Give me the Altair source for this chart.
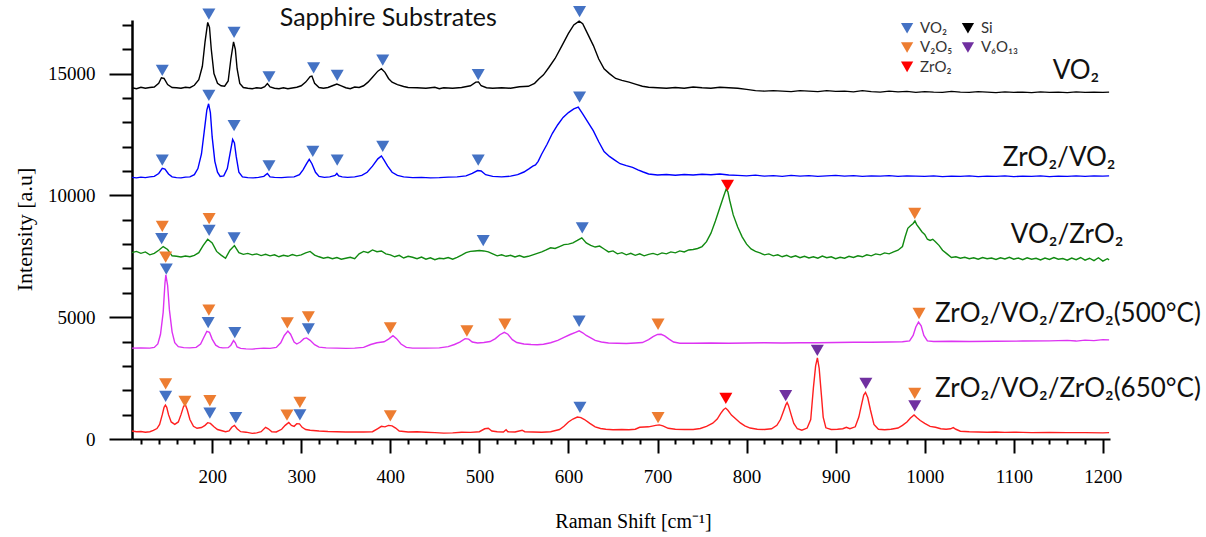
import altair as alt
import pandas as pd

# ---- Raman spectra: (shift in cm^-1, stacked intensity in a.u.) ----
vo2 = [
    (110, 14420), (115, 14380), (120, 14440), (125, 14400), (130, 14430), (135, 14450),
    (140, 14600), (143, 14830), (146, 14800), (150, 14550), (155, 14430), (160, 14420),
    (165, 14400), (170, 14440), (175, 14420), (180, 14520), (185, 14750), (189, 15300),
    (192, 16300), (195, 17100), (197, 16900), (199, 16000), (202, 15000), (206, 14600),
    (210, 14500), (214, 14480), (218, 14700), (221, 15600), (224, 16300), (226, 16000),
    (228, 15200), (231, 14600), (235, 14430), (240, 14400), (245, 14380), (250, 14420),
    (255, 14400), (259, 14460), (262, 14590), (265, 14450), (270, 14400), (275, 14380),
    (280, 14420), (285, 14380), (290, 14410), (295, 14440), (300, 14500), (305, 14650),
    (310, 14880), (312, 14900), (315, 14600), (320, 14430), (325, 14400), (330, 14430),
    (335, 14500), (340, 14570), (345, 14500), (350, 14420), (355, 14380), (360, 14450),
    (365, 14430), (370, 14500), (375, 14650), (380, 14850), (386, 15100), (390, 15200),
    (394, 15050), (398, 14800), (402, 14650), (408, 14550), (415, 14470), (420, 14430),
    (430, 14420), (440, 14400), (450, 14440), (455, 14380), (460, 14420), (470, 14400),
    (480, 14430), (490, 14500), (496, 14650), (499, 14660), (502, 14500), (508, 14420),
    (515, 14400), (525, 14420), (535, 14400), (545, 14460), (555, 14480), (562, 14600),
    (567, 14790), (572, 14950), (578, 15250), (585, 15620), (592, 16100), (600, 16650),
    (606, 17000), (612, 17150), (616, 17050), (622, 16600), (628, 16150), (634, 15600),
    (640, 15200), (646, 15000), (653, 14800), (660, 14720), (668, 14650), (676, 14560),
    (683, 14480), (690, 14440), (700, 14420), (710, 14400), (720, 14430), (730, 14400),
    (740, 14450), (750, 14420), (760, 14400), (770, 14440), (780, 14420), (790, 14400),
    (800, 14350), (810, 14300), (820, 14280), (830, 14300), (840, 14280), (850, 14260),
    (860, 14300), (870, 14280), (880, 14260), (890, 14300), (900, 14270), (910, 14280),
    (920, 14250), (930, 14300), (940, 14260), (950, 14240), (960, 14280), (970, 14250),
    (980, 14270), (990, 14230), (1000, 14260), (1010, 14240), (1020, 14230), (1030, 14270),
    (1040, 14240), (1050, 14230), (1060, 14260), (1070, 14240), (1080, 14220), (1090, 14250),
    (1100, 14230), (1110, 14240), (1120, 14220), (1130, 14250), (1140, 14230), (1150, 14240),
    (1160, 14220), (1170, 14250), (1180, 14230), (1190, 14240), (1200, 14230), (1207, 14240),
]

zro2_vo2 = [
    (110, 10740), (115, 10720), (120, 10750), (125, 10730), (130, 10760), (135, 10780),
    (140, 10900), (144, 11110), (147, 11080), (151, 10880), (155, 10760), (160, 10730),
    (165, 10720), (170, 10750), (175, 10760), (180, 10850), (184, 11100), (188, 11700),
    (191, 12600), (194, 13500), (196, 13760), (198, 13400), (200, 12400), (203, 11400),
    (206, 10950), (209, 10780), (213, 10800), (217, 11100), (220, 11700), (223, 12300),
    (225, 12150), (227, 11600), (230, 10950), (234, 10760), (240, 10730), (246, 10720),
    (252, 10740), (258, 10780), (262, 10900), (265, 10760), (270, 10740), (278, 10730),
    (285, 10750), (292, 10760), (298, 10850), (302, 11050), (306, 11300), (309, 11480),
    (312, 11300), (316, 10950), (320, 10780), (326, 10740), (332, 10760), (338, 10820),
    (340, 10900), (342, 10800), (346, 10760), (352, 10740), (360, 10760), (368, 10820),
    (374, 10950), (380, 11200), (386, 11500), (390, 11620), (393, 11450), (397, 11200),
    (402, 10950), (408, 10820), (415, 10760), (425, 10730), (435, 10740), (445, 10720),
    (455, 10730), (465, 10750), (475, 10760), (485, 10800), (492, 10900), (498, 11020),
    (502, 11000), (507, 10850), (515, 10780), (525, 10760), (535, 10790), (543, 10850),
    (550, 10960), (556, 11100), (560, 11200), (563, 11250), (566, 11400), (570, 11700),
    (576, 12100), (582, 12550), (588, 12900), (594, 13200), (600, 13400), (606, 13550),
    (611, 13620), (616, 13350), (622, 13000), (628, 12650), (634, 12200), (640, 11800),
    (646, 11600), (652, 11450), (658, 11300), (665, 11220), (672, 11150), (678, 11050),
    (684, 10960), (690, 10880), (700, 10840), (710, 10860), (720, 10830), (730, 10860),
    (740, 10840), (750, 10870), (760, 10850), (770, 10880), (780, 10840), (790, 10820),
    (800, 10800), (810, 10830), (820, 10790), (830, 10810), (840, 10780), (850, 10820),
    (860, 10790), (870, 10810), (880, 10780), (890, 10800), (900, 10820), (910, 10790),
    (920, 10810), (930, 10780), (940, 10800), (950, 10790), (960, 10810), (970, 10780),
    (980, 10800), (990, 10790), (1000, 10780), (1010, 10800), (1020, 10770), (1030, 10790),
    (1040, 10780), (1050, 10800), (1060, 10770), (1070, 10790), (1080, 10780), (1090, 10800),
    (1100, 10770), (1110, 10790), (1120, 10780), (1130, 10800), (1140, 10770), (1150, 10790),
    (1160, 10780), (1170, 10800), (1180, 10780), (1190, 10800), (1200, 10790), (1207, 10800),
]

vo2_zro2 = [
    (110, 7650), (115, 7700), (120, 7620), (125, 7680), (130, 7560), (135, 7620),
    (140, 7750), (145, 7900), (150, 7780), (155, 7520), (160, 7500), (165, 7470),
    (170, 7510), (175, 7480), (180, 7540), (185, 7650), (190, 7950), (195, 8200),
    (200, 8050), (205, 7700), (210, 7550), (215, 7420), (220, 7750), (225, 7940),
    (230, 7650), (235, 7580), (240, 7620), (245, 7560), (250, 7600), (255, 7530),
    (260, 7580), (265, 7520), (270, 7560), (275, 7480), (280, 7540), (285, 7500),
    (290, 7570), (295, 7520), (300, 7560), (305, 7640), (310, 7700), (315, 7550),
    (320, 7480), (325, 7420), (330, 7460), (335, 7400), (340, 7450), (345, 7380),
    (350, 7420), (355, 7460), (360, 7400), (365, 7600), (370, 7700), (375, 7650),
    (380, 7760), (385, 7690), (390, 7720), (395, 7600), (400, 7560), (405, 7480),
    (410, 7540), (415, 7430), (420, 7500), (425, 7460), (430, 7400), (435, 7470),
    (440, 7380), (445, 7440), (450, 7360), (455, 7420), (460, 7400), (465, 7450),
    (470, 7380), (475, 7460), (480, 7550), (485, 7650), (490, 7700), (495, 7720),
    (500, 7740), (505, 7720), (510, 7680), (515, 7600), (520, 7520), (525, 7560),
    (530, 7500), (535, 7540), (540, 7470), (545, 7530), (550, 7460), (555, 7500),
    (560, 7560), (565, 7620), (570, 7680), (575, 7760), (580, 7850), (585, 7820),
    (590, 7900), (595, 7980), (600, 8000), (605, 8050), (610, 8150), (615, 8260),
    (620, 8050), (625, 7950), (630, 7880), (635, 7920), (640, 7800), (645, 7680),
    (650, 7720), (655, 7600), (660, 7650), (665, 7560), (670, 7620), (675, 7540),
    (680, 7600), (685, 7520), (690, 7580), (695, 7620), (700, 7560), (705, 7640),
    (710, 7600), (715, 7680), (720, 7640), (725, 7720), (730, 7680), (735, 7760),
    (740, 7780), (745, 7820), (750, 7900), (755, 8100), (760, 8450), (765, 8950),
    (770, 9500), (775, 10050), (777, 10250), (779, 10150), (781, 9800), (785, 9200),
    (790, 8700), (795, 8300), (800, 8000), (805, 7800), (810, 7700), (815, 7640),
    (820, 7560), (825, 7600), (830, 7520), (835, 7560), (840, 7480), (845, 7540),
    (850, 7460), (855, 7520), (860, 7440), (865, 7500), (870, 7430), (875, 7480),
    (880, 7420), (885, 7510), (890, 7440), (895, 7480), (900, 7400), (905, 7460),
    (910, 7420), (915, 7500), (920, 7450), (925, 7520), (930, 7480), (935, 7560),
    (940, 7520), (945, 7600), (950, 7560), (955, 7640), (960, 7600), (965, 7680),
    (970, 7750), (975, 7900), (978, 8300), (981, 8650), (984, 8750), (987, 8850),
    (989, 8950), (991, 8800), (994, 8650), (997, 8500), (1000, 8400), (1003, 8200),
    (1006, 8150), (1009, 8200), (1012, 8100), (1016, 7950), (1020, 7750), (1025, 7600),
    (1030, 7450), (1035, 7480), (1040, 7420), (1045, 7460), (1050, 7400), (1055, 7440),
    (1060, 7380), (1065, 7450), (1070, 7400), (1075, 7430), (1080, 7370), (1085, 7440),
    (1090, 7390), (1095, 7460), (1100, 7380), (1105, 7430), (1110, 7360), (1115, 7440),
    (1120, 7380), (1125, 7420), (1130, 7350), (1135, 7430), (1140, 7370), (1145, 7450),
    (1150, 7380), (1155, 7410), (1160, 7340), (1165, 7430), (1170, 7360), (1175, 7450),
    (1180, 7340), (1185, 7420), (1190, 7320), (1195, 7440), (1200, 7300), (1205, 7400),
    (1207, 7350),
]

tri_500 = [
    (110, 3730), (120, 3740), (130, 3730), (135, 3760), (139, 3900), (142, 4300),
    (145, 5200), (147, 6400), (148, 6735), (150, 6300), (152, 5300), (155, 4400),
    (158, 3950), (162, 3790), (168, 3750), (175, 3740), (182, 3760), (187, 3900),
    (191, 4200), (194, 4420), (197, 4380), (200, 4100), (204, 3850), (208, 3760),
    (212, 3740), (218, 3750), (221, 3850), (224, 4040), (226, 3950), (228, 3780),
    (232, 3720), (238, 3700), (245, 3690), (250, 3710), (258, 3730), (265, 3720),
    (272, 3760), (277, 3950), (281, 4250), (285, 4430), (288, 4300), (292, 3980),
    (295, 3900), (299, 3980), (303, 4120), (306, 4150), (310, 4050), (315, 3870),
    (320, 3770), (328, 3740), (340, 3730), (350, 3720), (360, 3730), (370, 3760),
    (378, 3880), (385, 3950), (393, 3990), (398, 4100), (403, 4240), (407, 4120),
    (412, 3900), (418, 3760), (425, 3730), (440, 3730), (455, 3740), (465, 3790),
    (472, 3880), (478, 3980), (484, 4120), (488, 4100), (492, 3980), (498, 3940),
    (505, 3960), (512, 4000), (518, 4120), (523, 4280), (528, 4380), (532, 4300),
    (537, 4080), (542, 3960), (550, 3900), (558, 3880), (565, 3870), (572, 3890),
    (580, 3950), (588, 4050), (595, 4170), (602, 4290), (608, 4380), (612, 4440),
    (616, 4360), (620, 4250), (625, 4150), (630, 4050), (637, 3980), (645, 3940),
    (655, 3930), (665, 3920), (675, 3940), (683, 3960), (690, 4080), (695, 4200),
    (700, 4290), (704, 4300), (708, 4230), (713, 4100), (718, 3980), (725, 3930),
    (740, 3930), (760, 3940), (780, 3930), (800, 3940), (820, 3950), (840, 3940),
    (860, 3950), (880, 3950), (900, 3960), (920, 3970), (940, 3970), (960, 3980),
    (975, 3990), (983, 4030), (987, 4250), (990, 4600), (993, 4800), (996, 4650),
    (999, 4250), (1003, 4030), (1010, 4000), (1030, 4010), (1050, 4000), (1080, 4010),
    (1110, 4020), (1140, 4030), (1160, 4050), (1170, 4020), (1180, 4060), (1190, 4040),
    (1200, 4080), (1207, 4070),
]

tri_650 = [
    (110, 330), (115, 300), (120, 310), (125, 280), (130, 300), (134, 350),
    (138, 430), (141, 600), (144, 1000), (146, 1300), (147.5, 1390), (149, 1300),
    (151, 1000), (154, 700), (158, 600), (162, 700), (165, 1000), (168, 1350),
    (170, 1400), (172, 1200), (175, 800), (179, 520), (183, 440), (188, 470),
    (192, 560), (195, 670), (198, 640), (202, 500), (206, 390), (210, 350),
    (215, 300), (219, 330), (222, 480), (225, 560), (228, 420), (232, 300),
    (238, 280), (245, 230), (250, 250), (255, 300), (260, 480), (263, 420),
    (267, 300), (272, 290), (278, 400), (282, 560), (286, 680), (289, 560),
    (292, 520), (295, 630), (298, 620), (301, 480), (305, 390), (310, 360),
    (320, 330), (330, 310), (340, 300), (350, 290), (360, 290), (370, 290),
    (380, 300), (386, 430), (390, 520), (394, 500), (398, 560), (402, 540),
    (406, 450), (410, 330), (420, 290), (430, 300), (440, 280), (450, 260),
    (460, 240), (470, 250), (480, 280), (490, 270), (500, 300), (506, 420),
    (510, 440), (514, 330), (520, 300), (527, 290), (530, 380), (532, 300),
    (540, 290), (548, 360), (551, 300), (560, 290), (570, 280), (580, 300),
    (590, 390), (595, 520), (600, 700), (605, 820), (610, 900), (614, 880),
    (618, 800), (624, 640), (630, 500), (636, 430), (642, 400), (650, 380),
    (660, 390), (668, 380), (675, 400), (680, 480), (690, 500), (698, 560),
    (702, 580), (706, 540), (712, 440), (720, 400), (730, 390), (740, 390),
    (748, 430), (755, 520), (762, 650), (767, 820), (771, 1050), (774, 1200),
    (776.5, 1270), (779, 1180), (783, 980), (788, 820), (793, 660), (798, 540),
    (804, 450), (812, 400), (820, 390), (828, 420), (834, 560), (838, 800),
    (841, 1100), (844, 1400), (845.5, 1500), (847, 1380), (850, 1000), (853, 640),
    (857, 420), (862, 360), (868, 450), (872, 800), (875, 2100), (877.5, 3000),
    (879.5, 3334), (881.5, 2900), (884, 1800), (886, 900), (889, 460), (895, 390),
    (902, 400), (908, 420), (912, 480), (916, 420), (922, 500), (926, 900),
    (929, 1400), (931.5, 1800), (933.5, 1913), (936, 1700), (939, 1200), (943, 600),
    (948, 400), (955, 380), (962, 400), (970, 450), (975, 560), (980, 700),
    (984, 860), (988, 990), (991, 880), (995, 760), (1000, 640), (1006, 520),
    (1012, 480), (1018, 420), (1024, 400), (1029, 420), (1032, 470), (1035, 400),
    (1040, 320), (1050, 300), (1060, 290), (1070, 280), (1080, 290), (1090, 270),
    (1100, 280), (1110, 270), (1120, 260), (1140, 270), (1160, 260), (1180, 260),
    (1200, 250), (1207, 260),
]

SAMPLES = ["VO₂", "ZrO₂/VO₂", "VO₂/ZrO₂", "ZrO₂/VO₂/ZrO₂(500°C)", "ZrO₂/VO₂/ZrO₂(650°C)"]
SAMPLE_COLORS = ["#000000", "#0000FF", "#118A11", "#DD33F2", "#FF1F1F"]
SPECTRA = [vo2, zro2_vo2, vo2_zro2, tri_500, tri_650]

# Label anchor (left end, baseline) beside each spectrum
label_shift = [1143.7, 1087.7, 1096.7, 1011.5, 1011.5]
label_intensity = [14793, 11198, 8045, 4806, 1707]

# ---- Phase assignments: (sample index, shift, intensity, phase) ----
phase_marks = [
    (0, 144, 15136, "VO2"), (0, 196.3, 17437, "VO2"), (0, 224.6, 16693, "VO2"),
    (0, 263.8, 14862, "VO2"), (0, 313.9, 15233, "VO2"), (0, 340.4, 14930, "VO2"),
    (0, 391.5, 15549, "VO2"), (0, 498.7, 14958, "VO2"), (0, 612.5, 17548, "VO2"),
    (1, 144, 11446, "VO2"), (1, 196.3, 14103, "VO2"), (1, 224.6, 12863, "VO2"),
    (1, 263.8, 11211, "VO2"), (1, 313, 11805, "VO2"), (1, 340.4, 11446, "VO2"),
    (1, 391.5, 12011, "VO2"), (1, 498.7, 11446, "VO2"), (1, 612.5, 14036, "VO2"),
    (2, 143.3, 8223, "VO2"), (2, 144, 8731, "V2O5"), (2, 196.6, 8566, "VO2"),
    (2, 196.6, 9049, "V2O5"), (2, 224.6, 8251, "VO2"), (2, 504.3, 8140, "VO2"),
    (2, 615.5, 8665, "VO2"), (2, 778.6, 10413, "ZrO2"), (2, 988.8, 9256, "V2O5"),
    (3, 147.8, 7466, "V2O5"), (3, 148.5, 6970, "VO2"), (3, 196.3, 5289, "V2O5"),
    (3, 195.5, 4780, "VO2"), (3, 225.4, 4367, "VO2"), (3, 284.4, 4764, "V2O5"),
    (3, 308, 5012, "V2O5"), (3, 308, 4516, "VO2"), (3, 400, 4558, "V2O5"),
    (3, 486, 4434, "V2O5"), (3, 528.6, 4710, "V2O5"), (3, 612, 4834, "VO2"),
    (3, 700.6, 4710, "V2O5"), (3, 993.6, 5151, "V2O5"),
    (4, 147.8, 2260, "V2O5"), (4, 147.8, 1748, "VO2"), (4, 169.4, 1542, "V2O5"),
    (4, 197.4, 1570, "V2O5"), (4, 197.4, 1062, "VO2"), (4, 226.5, 880, "VO2"),
    (4, 284, 979, "V2O5"), (4, 298.5, 1500, "V2O5"), (4, 298.5, 992, "VO2"),
    (4, 400, 950, "V2O5"), (4, 612.9, 1295, "VO2"), (4, 700.6, 880, "V2O5"),
    (4, 776.7, 1666, "ZrO2"), (4, 843.9, 1777, "V6O13"), (4, 879.4, 3636, "V6O13"),
    (4, 933.9, 2287, "V6O13"), (4, 988.8, 1873, "V2O5"), (4, 988.8, 1364, "V6O13"),
]

PHASES = ["VO2", "V2O5", "ZrO2", "Si", "V6O13"]
PHASE_NAMES = ["VO₂", "V₂O₅", "ZrO₂", "Si", "V₆O₁₃"]
PHASE_COLORS = ["#4472C4", "#ED7D31", "#FF0000", "#000000", "#7030A0"]
# key positions (shift, intensity) of each phase symbol, two columns
key_shift = [980.2, 980.2, 980.2, 1048.5, 1048.5]
key_intensity = [16859, 16074, 15276, 16859, 16074]

X_MAJOR = [200, 300, 400, 500, 600, 700, 800, 900, 1000, 1100, 1200]
X_MINOR = [v for v in range(120, 1201, 20) if v % 100 != 0]
Y_MAJOR = [0, 5000, 10000, 15000]
Y_MINOR = [v for v in range(1000, 17001, 1000) if v % 5000 != 0]

X_DOMAIN = [110, 1208]
Y_DOMAIN = [0, 17200]

SERIF = "Liberation Serif"
SANS = "Lato"

# ---- tables ----
line_rows = []
for name, spec in zip(SAMPLES, SPECTRA):
    for order, (s, i) in enumerate(spec):
        line_rows.append({"sample": name, "shift": s, "intensity": i, "order": order})
lines_df = pd.DataFrame(line_rows)

marks_df = pd.DataFrame(
    [{"sample": SAMPLES[k], "shift": s, "intensity": i, "phase": p} for k, s, i, p in phase_marks]
)
labels_df = pd.DataFrame({"text": SAMPLES, "shift": label_shift, "intensity": label_intensity})
key_df = pd.DataFrame(
    {"phase": PHASES, "name": PHASE_NAMES, "shift": key_shift, "intensity": key_intensity}
)
title_df = pd.DataFrame({"text": ["Sapphire Substrates"], "shift": [275.9], "intensity": [16960]})

xscale = alt.Scale(domain=X_DOMAIN, nice=False, zero=False)
yscale = alt.Scale(domain=Y_DOMAIN, nice=False, zero=False)
sample_scale = alt.Scale(domain=SAMPLES, range=SAMPLE_COLORS)
phase_scale = alt.Scale(domain=PHASES, range=PHASE_COLORS)

x_major_axis = alt.Axis(
    orient="bottom", values=X_MAJOR, format="d", tickSize=14, tickWidth=2, tickColor="#000",
    domainWidth=2, domainColor="#000", labelFont=SERIF, labelFontSize=19, labelColor="#000",
    labelPadding=14, labelOverlap=False, labelFlush=False, grid=False,
    title="Raman Shift [cm⁻¹]", titleFont=SERIF, titleFontSize=20, titleFontWeight="normal",
    titleColor="#000", titleX=501, titleY=82, titleBaseline="middle", titleAlign="center",
)
y_major_axis = alt.Axis(
    orient="left", values=Y_MAJOR, format="d", tickSize=23, tickWidth=2, tickColor="#000",
    domainWidth=2.5, domainColor="#000", labelFont=SERIF, labelFontSize=19, labelColor="#000",
    labelPadding=14, labelOverlap=False, labelFlush=False, grid=False,
    title="Intensity [a.u]", titleFont=SERIF, titleFontSize=22, titleFontWeight="normal",
    titleColor="#000", titleX=-108, titleY=209, titleAngle=-90,
    titleBaseline="middle", titleAlign="center",
)
x_minor_axis = alt.Axis(
    orient="bottom", values=X_MINOR, tickSize=5, tickWidth=2, tickColor="#000",
    domain=False, labels=False, grid=False, title=None,
)
y_minor_axis = alt.Axis(
    orient="left", values=Y_MINOR, tickSize=10, tickWidth=2, tickColor="#000",
    domain=False, labels=False, grid=False, title=None,
)

spectra = alt.Chart(lines_df).mark_line(strokeWidth=1.4, clip=False).encode(
    x=alt.X("shift:Q", scale=xscale, axis=x_major_axis),
    y=alt.Y("intensity:Q", scale=yscale, axis=y_major_axis),
    color=alt.Color("sample:N", scale=sample_scale, legend=None),
    order="order:Q",
)

minor = alt.Chart(lines_df).mark_point(opacity=0).encode(
    x=alt.X("shift:Q", scale=xscale, axis=x_minor_axis),
    y=alt.Y("intensity:Q", scale=yscale, axis=y_minor_axis),
)

tri = alt.Chart(marks_df).mark_point(
    shape="triangle-down", filled=True, size=170, opacity=1, clip=False
).encode(
    x=alt.X("shift:Q", scale=xscale, axis=None),
    y=alt.Y("intensity:Q", scale=yscale, axis=None),
    fill=alt.Fill("phase:N", scale=phase_scale, legend=None),
)

sample_labels = alt.Chart(labels_df).mark_text(
    align="left", baseline="alphabetic", font=SANS, fontSize=26, color="#111"
).encode(
    x=alt.X("shift:Q", scale=xscale, axis=None),
    y=alt.Y("intensity:Q", scale=yscale, axis=None),
    text="text:N",
)

key_symbols = alt.Chart(key_df).mark_point(
    shape="triangle-down", filled=True, size=150, opacity=1
).encode(
    x=alt.X("shift:Q", scale=xscale, axis=None),
    y=alt.Y("intensity:Q", scale=yscale, axis=None),
    fill=alt.Fill("phase:N", scale=phase_scale, legend=None),
)
key_text = alt.Chart(key_df).mark_text(
    align="left", baseline="middle", dx=13, font=SANS, fontSize=15, color="#333"
).encode(
    x=alt.X("shift:Q", scale=xscale, axis=None),
    y=alt.Y("intensity:Q", scale=yscale, axis=None),
    text="name:N",
)

heading = alt.Chart(title_df).mark_text(
    align="left", baseline="alphabetic", font=SANS, fontSize=25, color="#111"
).encode(
    x=alt.X("shift:Q", scale=xscale, axis=None),
    y=alt.Y("intensity:Q", scale=yscale, axis=None),
    text="text:N",
)

chart = (
    alt.layer(spectra, minor, tri, sample_labels, key_symbols, key_text, heading)
    .resolve_axis(x="independent", y="independent")
    .properties(
        width=978,
        height=419,
        autosize=alt.AutoSizeParams(type="none"),
        padding={"left": 132, "top": 20, "right": 96, "bottom": 98},
        background="white",
    )
    .configure_view(stroke=None)
)

chart.save("out.html", embed_options={"renderer": "svg", "actions": False})
